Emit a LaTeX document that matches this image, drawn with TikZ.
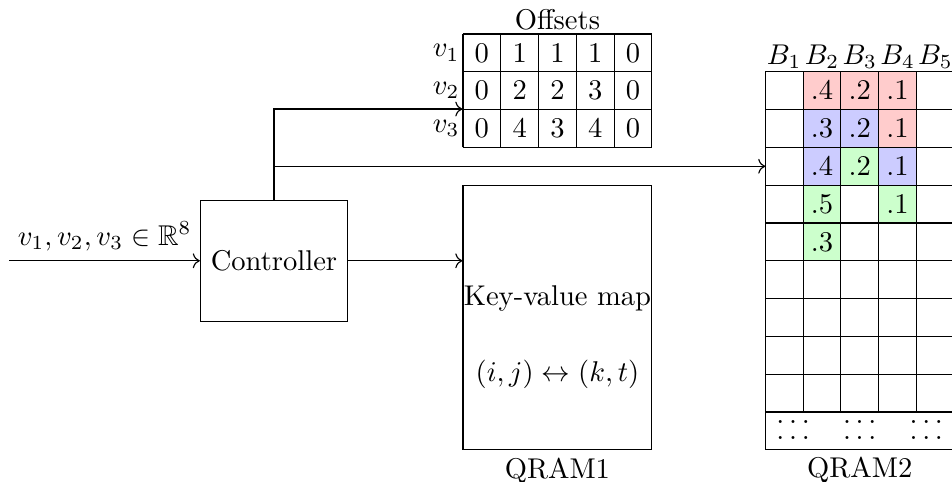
\documentclass[tikz,border=0pt]{standalone}
\usepackage{amsmath}
\usepackage{amssymb}
\usepackage{xcolor}
\usetikzlibrary{arrows.meta,positioning,calc}

\begin{document}
\begin{tikzpicture}[
    scale=0.465,
    box/.style={rectangle, draw, align=center},
    cell/.style={rectangle, minimum size=0.465cm, inner sep=0pt},
    arrow/.style={->}
]
    \useasboundingbox (-12.25,-0.85) rectangle (12.94,11.9);

    \node [box, minimum width=1.81cm, minimum height=1.49cm] (ctrl) at (-5,5) {Controller};
    \node [box, minimum width=2.325cm, minimum height=3.255cm] (qram1) at (2.5,3.5) {};
    \node (kv) at (2.5,4) {Key-value map};
    \node (map) at (2.5,2) {$(i,j) \leftrightarrow (k,t)$};
    \node [below=2.5pt of qram1, inner sep=0pt] (q1) {QRAM1};

    % offsets table
    \node [above, inner sep=1pt] (offsets) at (2.5,11) {Offsets};
    \foreach \row [count=\r] in {{0,1,1,1,0},{0,2,2,3,0},{0,4,3,4,0}} {
        \node [left, inner sep=1pt] (v\r) at (0,11.5-\r) {$v_\r$};
        \foreach \a [count=\c] in \row
            \node [cell] (o\r\c) at (\c-0.5,11.5-\r) {$\a$};
    }
    \draw (0,8) grid (5,11);

    % qram2 blocks
    \foreach \x/\y/\col/\val in {2/1/red/.4, 3/1/red/.2, 4/1/red/.1, 4/2/red/.1,
                                 2/2/blue/.3, 3/2/blue/.2, 2/3/blue/.4, 4/3/blue/.1,
                                 3/3/green/.2, 2/4/green/.5, 4/4/green/.1, 2/5/green/.3}
        \node [cell, fill=\col!20] (c\x\y) at (7.5+\x,10.5-\y) {$\val$};
    \draw (8,1) grid (13,10);
    \draw (8,1) -- (8,0) -- (13,0) -- (13,1);
    \foreach \i in {1,...,5}
        \node [above, inner sep=1pt] (B\i) at (7.5+\i,10) {$B_\i$};
    \node [align=center] (dots) at (10.5,0.52)
        {$\ldots\quad\ldots\quad\ldots$\\[-6.3pt]$\ldots\quad\ldots\quad\ldots$};
    \node [below=2.5pt, inner sep=0pt] (q2) at (10.5,0) {QRAM2};
    \coordinate (g3) at (8,7.5);

    \coordinate (in) at (-12,5);
    \draw [arrow] (in) -- node [above] (vin) {$v_1, v_2, v_3 \in \mathbb{R}^8$} (ctrl);
    \draw [arrow] (ctrl.east) -- (ctrl.east -| qram1.west);
    \draw [arrow] (ctrl.north) |- (o31.north west);
    \draw [arrow] (ctrl.north |- g3) -- (g3);
\end{tikzpicture}
\end{document}
